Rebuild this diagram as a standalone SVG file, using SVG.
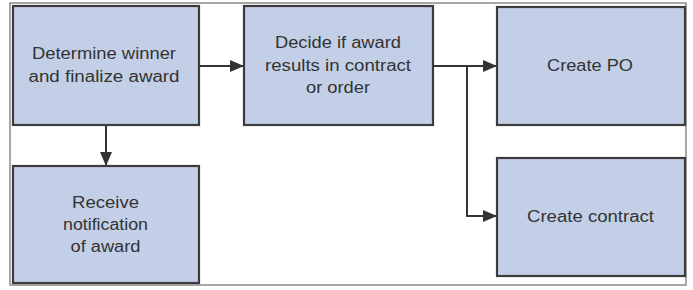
<svg xmlns="http://www.w3.org/2000/svg" width="693" height="290" viewBox="0 0 693 290">
  <style>
    .frame { fill: none; stroke: #8a8a8a; stroke-width: 1.5; }
    .box { fill: #c3cfe7; stroke: #3c3c3c; stroke-width: 2.2; }
    .lbl { font-family: "Liberation Sans", Arial, sans-serif; font-size: 16px; fill: #333333; text-anchor: middle; }
    .conn { fill: none; stroke: #333333; stroke-width: 2; }
  </style>
  <defs>
    <marker id="arrow" viewBox="0 0 14 12" refX="14" refY="6" markerWidth="14" markerHeight="12" markerUnits="userSpaceOnUse" orient="auto">
      <path d="M0,0 L14,6 L0,12 Z" fill="#333333"/>
    </marker>
  </defs>
  <rect class="frame" x="10" y="3" width="676" height="282"/>
  <g id="connectors">
    <line class="conn" x1="199" y1="66" x2="244" y2="66" marker-end="url(#arrow)"/>
    <line class="conn" x1="433" y1="66" x2="497" y2="66" marker-end="url(#arrow)"/>
    <polyline class="conn" points="467,66 467,216 497,216" marker-end="url(#arrow)"/>
    <line class="conn" x1="106" y1="125" x2="106" y2="166" marker-end="url(#arrow)"/>
  </g>
  <g id="node-determine">
    <rect class="box" x="13" y="6" width="186" height="119"/>
    <text class="lbl" x="104" y="59" textLength="144" lengthAdjust="spacingAndGlyphs">Determine winner</text>
    <text class="lbl" x="104" y="81.5" textLength="151" lengthAdjust="spacingAndGlyphs">and finalize award</text>
  </g>
  <g id="node-decide">
    <rect class="box" x="244" y="6" width="189" height="119"/>
    <text class="lbl" x="338" y="48" textLength="126" lengthAdjust="spacingAndGlyphs">Decide if award</text>
    <text class="lbl" x="338" y="70.5" textLength="146" lengthAdjust="spacingAndGlyphs">results in contract</text>
    <text class="lbl" x="338" y="93" textLength="64" lengthAdjust="spacingAndGlyphs">or order</text>
  </g>
  <g id="node-create-po">
    <rect class="box" x="497" y="7" width="188" height="118"/>
    <text class="lbl" x="590" y="71" textLength="86" lengthAdjust="spacingAndGlyphs">Create PO</text>
  </g>
  <g id="node-receive">
    <rect class="box" x="13" y="166" width="186" height="117"/>
    <text class="lbl" x="105.5" y="208" textLength="67" lengthAdjust="spacingAndGlyphs">Receive</text>
    <text class="lbl" x="105.5" y="230" textLength="85" lengthAdjust="spacingAndGlyphs">notification</text>
    <text class="lbl" x="105.5" y="252" textLength="70" lengthAdjust="spacingAndGlyphs">of award</text>
  </g>
  <g id="node-create-contract">
    <rect class="box" x="497" y="158" width="188" height="118"/>
    <text class="lbl" x="590.5" y="222" textLength="127" lengthAdjust="spacingAndGlyphs">Create contract</text>
  </g>
</svg>
